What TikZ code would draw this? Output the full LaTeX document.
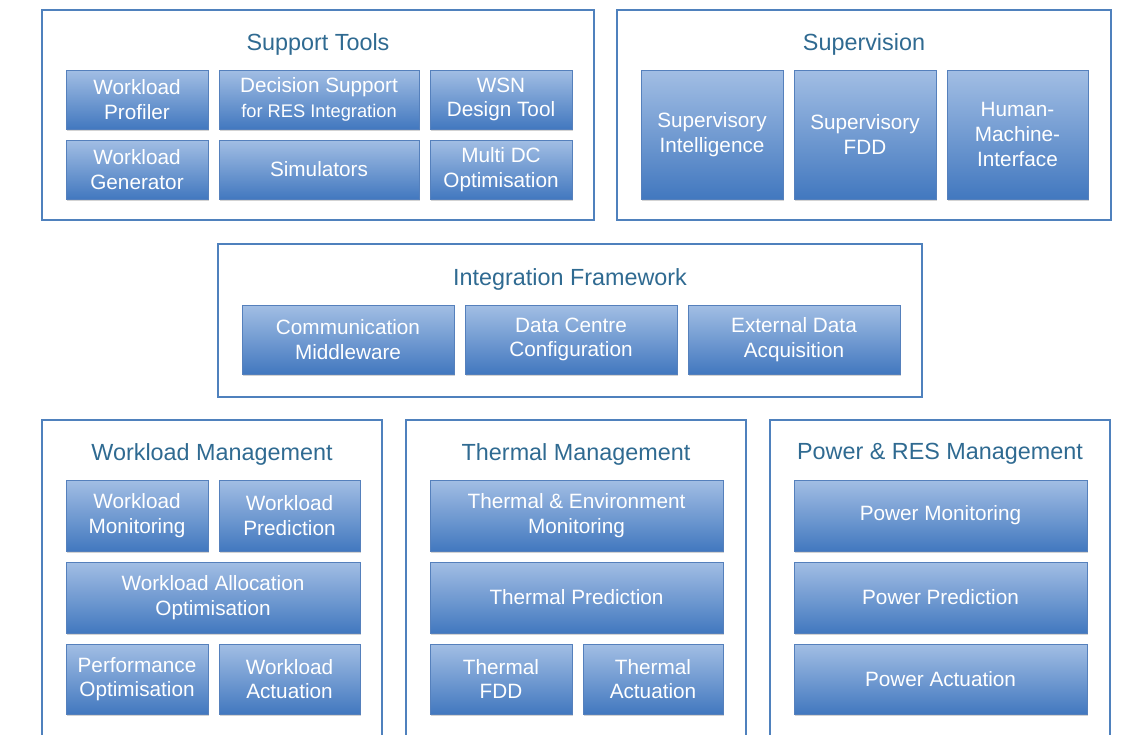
\documentclass[tikz,border=0pt]{standalone}
\usepackage{fontspec}
\setmainfont{Liberation Sans}
\usetikzlibrary{shadows}
\definecolor{frame}{RGB}{79,129,189}
\definecolor{ttlc}{RGB}{47,106,145}
\definecolor{btop}{RGB}{162,190,228}
\definecolor{bbot}{RGB}{66,120,191}
\definecolor{bline}{RGB}{85,128,188}
\tikzset{
 cont/.style 2 args={draw=frame, line width=1.2pt, minimum width=#1*0.02cm, minimum height=#2*0.02cm, inner sep=0pt},
 ib/.style 2 args={top color=btop, bottom color=bbot, draw=bline, line width=0.3pt, minimum width=#1*0.02cm, minimum height=#2*0.02cm, inner sep=0pt, align=center, text=white, font=\fontsize{11.8}{14}\selectfont, drop shadow={opacity=0.35, shadow xshift=0.6pt, shadow yshift=-1.2pt}},
 ttl/.style={text=ttlc, font=\fontsize{13.3}{15}\selectfont, inner sep=0pt}
}
\begin{document}
\begin{tikzpicture}[x=0.02cm,y=-0.02cm]
\useasboundingbox (0,0) rectangle (1135,734);
\clip (0,0) rectangle (1135,734);
% containers
\node[cont={552}{210}] (support) at (318,115) {};
\node[cont={494}{210}] (superv) at (864,115) {};
\node[cont={704}{153}] (integ) at (570,320.5) {};
\node[cont={340}{340}] (wlm) at (212,590) {};
\node[cont={340}{340}] (thm) at (576,590) {};
\node[cont={340}{340}] (pwm) at (940,590) {};
% titles
\node[ttl] (t1) at (318,44) {Support Tools};
\node[ttl] (t2) at (864,44) {Supervision};
\node[ttl] (t3) at (570,279) {Integration Framework};
\node[ttl] (t4) at (212,454) {Workload Management};
\node[ttl] (t5) at (576,454) {Thermal Management};
\node[ttl] (t6) at (940,454) {Power \& RES Management};
% support tools
\node[ib={142}{59}] (wprof) at (137,99.5) {Workload\\Profiler};
\node[ib={200}{59}] (dsres) at (319,99.5) {Decision Support\\{\fontsize{10.4}{12}\selectfont for RES Integration}};
\node[ib={142}{59}] (wsn) at (501,99.5) {WSN\\Design Tool};
\node[ib={142}{59}] (wgen) at (137,169.5) {Workload\\Generator};
\node[ib={200}{59}] (sim) at (319,169.5) {Simulators};
\node[ib={142}{59}] (mdc) at (501,169.5) {Multi DC\\Optimisation};
% supervision
\node[ib={142}{129}] (si) at (712,134.5) {Supervisory\\Intelligence};
\node[ib={142}{129}] (sfdd) at (865,134.5) {Supervisory\\FDD};
\node[ib={141}{129}] (hmi) at (1017.5,134.5) {Human-\\Machine-\\Interface};
% integration
\node[ib={212}{69}] (cm) at (348,339.5) {Communication\\Middleware};
\node[ib={212}{69}] (dcc) at (571,339.5) {Data Centre\\Configuration};
\node[ib={212}{69}] (eda) at (794,339.5) {External Data\\Acquisition};
% workload management
\node[ib={142}{71}] (wmon) at (137,515.5) {Workload\\Monitoring};
\node[ib={141}{71}] (wpred) at (289.5,515.5) {Workload\\Prediction};
\node[ib={294}{71}] (wao) at (213,597.5) {Workload Allocation\\Optimisation};
\node[ib={142}{70}] (popt) at (137,679) {Performance\\Optimisation};
\node[ib={141}{70}] (wact) at (289.5,679) {Workload\\Actuation};
% thermal management
\node[ib={293}{71}] (tem) at (576.5,515.5) {Thermal \& Environment\\Monitoring};
\node[ib={293}{71}] (tp) at (576.5,597.5) {Thermal Prediction};
\node[ib={142}{70}] (tfdd) at (501,679) {Thermal\\FDD};
\node[ib={140}{70}] (tact) at (653,679) {Thermal\\Actuation};
% power management
\node[ib={293}{71}] (pmon) at (940.5,515.5) {Power Monitoring};
\node[ib={293}{71}] (ppred) at (940.5,597.5) {Power Prediction};
\node[ib={293}{70}] (pact) at (940.5,679) {Power Actuation};
\end{tikzpicture}
\end{document}
